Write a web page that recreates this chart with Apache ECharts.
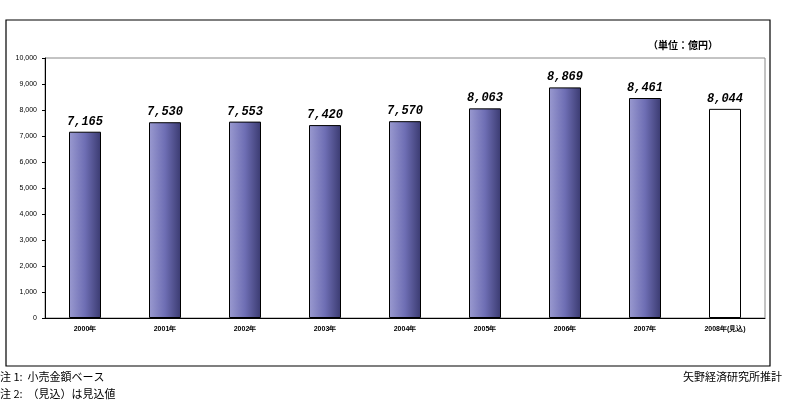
<!DOCTYPE html>
<html><head><meta charset="utf-8">
<script src="https://cdn.jsdelivr.net/npm/echarts@6/dist/echarts.min.js"></script>
<style>html,body{margin:0;padding:0;background:#fff}#c{width:790px;height:404px}</style>
</head><body><div id="c"></div>
<script>
const categories = ['2000年','2001年','2002年','2003年','2004年','2005年','2006年','2007年','2008年(見込)'];
const values = [7165,7530,7553,7420,7570,8063,8869,8461,8044];
const estimated = [false,false,false,false,false,false,false,false,true];
const grad = new echarts.graphic.LinearGradient(0,0,1,0,[{offset:0,color:'#9a9ad0'},{offset:0.5,color:'#6e6eb4'},{offset:1,color:'#3a3a70'}]);
const chart = echarts.init(document.getElementById('c'));
chart.setOption({
  animation:false,
  grid:{left:45,right:25,top:58,bottom:86},
  graphic:[
    {type:'rect',shape:{x:6,y:20,width:764,height:346},style:{fill:'none',stroke:'#000',lineWidth:1.2}},
    {type:'rect',shape:{x:45,y:58,width:720,height:260},style:{fill:'none',stroke:'#888',lineWidth:1},silent:true},
    {type:'text',left:648,top:40,style:{text:'（単位：億円）',font:'bold 10px "Noto Sans CJK JP"',fill:'#000'}},
    {type:'text',left:0,top:371,style:{text:'注 1:  小売金額ベース',font:'11px "Noto Sans CJK JP"',fill:'#000'}},
    {type:'text',left:0,top:388,style:{text:'注 2:  （見込）は見込値',font:'11px "Noto Sans CJK JP"',fill:'#000'}},
    {type:'text',right:8,top:371,style:{text:'矢野経済研究所推計',font:'11px "Noto Sans CJK JP"',fill:'#000'}}
  ],
  xAxis:{type:'category',data:categories,axisTick:{show:false},axisLine:{lineStyle:{color:'#000'}},
    axisLabel:{fontSize:7,fontWeight:'bold',color:'#000',margin:8}},
  yAxis:{type:'value',min:0,max:10000,interval:1000,splitLine:{show:false},
    axisLine:{show:true,lineStyle:{color:'#000'}},axisTick:{show:true,length:3,lineStyle:{color:'#000'}},
    axisLabel:{fontSize:7,color:'#000',formatter:v=>v.toLocaleString('en-US')}},
  series:[{type:'bar',barWidth:32,
    data:values.map((v,i)=>({value:v,itemStyle:estimated[i]?{color:'#fff',borderColor:'#000',borderWidth:1}:{color:grad,borderColor:'#000',borderWidth:1}})),
    label:{show:true,position:'top',distance:4,fontSize:12,fontStyle:'italic',fontWeight:'bold',fontFamily:'Liberation Mono',color:'#000',
      formatter:p=>p.value.toLocaleString('en-US')}}]
});
</script></body></html>
